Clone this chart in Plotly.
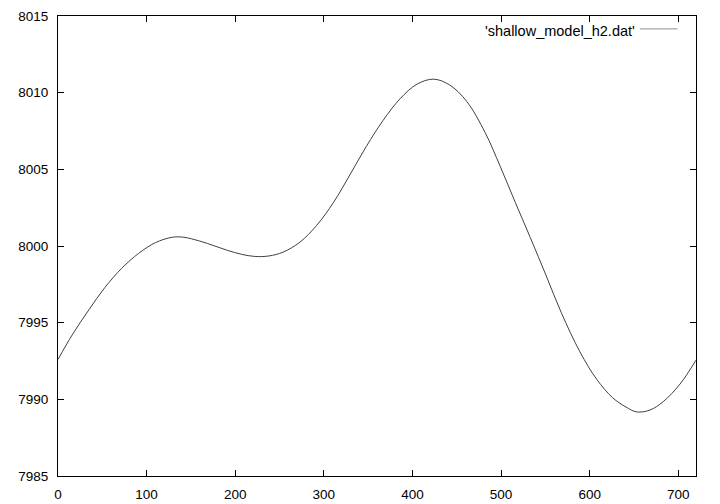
import plotly.graph_objects as go

x_vals = [0, 16, 35, 53, 72, 91, 110, 129, 142, 160, 177, 191, 207, 222, 238,
          254, 273, 292, 311, 330, 348, 367, 386, 405, 424, 442, 461, 482, 499,
          516, 533, 551, 568, 589, 608, 626, 641, 653, 668, 683, 702, 720]
y_vals = [7992.6, 7994.2, 7995.85, 7997.3, 7998.55, 7999.52, 8000.22, 8000.57,
          8000.57, 8000.32, 8000.0, 7999.72, 7999.46, 7999.32, 7999.35, 7999.6,
          8000.25, 8001.35, 8002.85, 8004.7, 8006.5, 8008.2, 8009.6, 8010.55,
          8010.88, 8010.5, 8009.45, 8007.4, 8005.2, 8002.85, 8000.55, 7998.05,
          7995.65, 7993.1, 7991.3, 7990.1, 7989.5, 7989.18, 7989.3, 7989.85,
          7991.0, 7992.55]
series_name = "'shallow_model_h2.dat'"
x_ticks = [0, 100, 200, 300, 400, 500, 600, 700]
y_ticks = [7985, 7990, 7995, 8000, 8005, 8010, 8015]

font = dict(family="Liberation Sans, Arial, sans-serif", size=13.5, color="black")

fig = go.Figure()
fig.add_trace(go.Scatter(x=x_vals, y=y_vals, mode="lines",
                         line=dict(color="#404040", width=1, shape="spline", smoothing=1.0),
                         name=series_name, showlegend=False, hoverinfo="skip"))

axis_common = dict(showgrid=False, zeroline=False, showline=True, linecolor="black",
                   linewidth=1, mirror="ticks", ticks="inside", ticklen=6,
                   tickcolor="black", tickwidth=1, tickfont=font, automargin=False)

fig.update_xaxes(range=[0, 720], tickvals=x_ticks, ticktext=[str(v) for v in x_ticks],
                 ticklabelstandoff=6, **axis_common)
fig.update_yaxes(range=[7985, 8015], tickvals=y_ticks, ticktext=[str(v) for v in y_ticks],
                 ticklabelstandoff=6, **axis_common)

# gnuplot-style key: text on the left, line sample on the right
fig.add_annotation(xref="paper", yref="paper", x=0.908, y=0.968, xanchor="right",
                   yanchor="middle", text=series_name, showarrow=False,
                   font=dict(family="Liberation Sans, Arial, sans-serif", size=14.5, color="black"))
fig.add_shape(type="line", xref="paper", yref="paper", x0=0.912, x1=0.971,
              y0=0.972, y1=0.972, line=dict(color="#909090", width=1))

fig.update_layout(width=720, height=504, paper_bgcolor="white", plot_bgcolor="white",
                  margin=dict(l=58, r=24, t=16, b=28), showlegend=False)

fig.write_html("out.html", config={"displayModeBar": False},
               post_script="document.body.style.margin='0';document.body.style.padding='0';")
